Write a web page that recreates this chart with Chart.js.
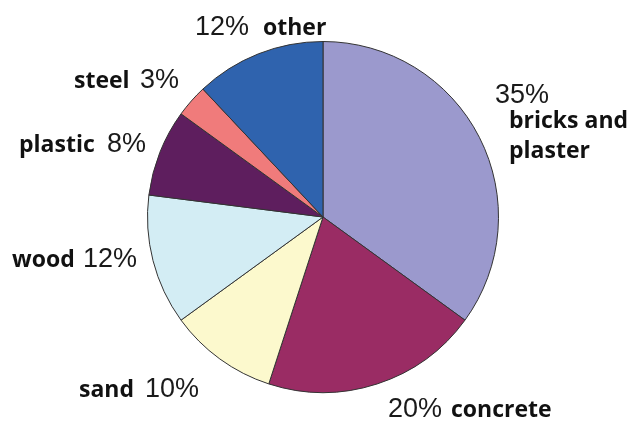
<!DOCTYPE html>
<html lang="en">
<head>
    <meta charset="UTF-8">
    <title>Building waste</title>
    <script src="https://cdn.jsdelivr.net/npm/chart.js"></script>
    <style>
        * {
            margin: 0;
            padding: 0;
            box-sizing: border-box;
        }
        body {
            background: white;
        }
        .chart-container {
            width: 631px;
            height: 427px;
            position: relative;
        }
    </style>
</head>
<body>
    <div class="chart-container">
        <canvas id="wasteChart"></canvas>
    </div>

    <script>
        // slices, clockwise from 12 o'clock
        const materials = ["bricks and plaster", "concrete", "sand", "wood", "plastic", "steel", "other"];
        const percents = [35, 20, 10, 12, 8, 3, 12];
        const sliceColors = ["#9b99cd", "#9a2c64", "#fcf9cd", "#d3edf4", "#5e1e5e", "#f07b7b", "#2f63ae"];

        // label placement: left x of the % and of the name, baselines
        const labelSpots = [
            { pctX: 495, pctY: 103, nameX: 509, nameY: 128, nameLines: ["bricks and", "plaster"] },
            { pctX: 388, pctY: 417, nameX: 451, nameY: 417 },
            { pctX: 145, pctY: 397, nameX: 79, nameY: 397 },
            { pctX: 83, pctY: 267, nameX: 12, nameY: 267 },
            { pctX: 107, pctY: 152, nameX: 19, nameY: 152 },
            { pctX: 140, pctY: 88, nameX: 74, nameY: 88 },
            { pctX: 195, pctY: 35, nameX: 263, nameY: 35 }
        ];

        const pctFont = "27px 'Liberation Sans', Arial, sans-serif";
        const nameFont = "bold 23px 'Open Sans', 'DejaVu Sans', sans-serif";

        const pieLabels = {
            id: "pieLabels",
            afterDraw(chart) {
                const ctx = chart.ctx;
                ctx.save();
                ctx.textAlign = "left";
                ctx.textBaseline = "alphabetic";
                ctx.fillStyle = "#1a1a1a";
                labelSpots.forEach((spot, i) => {
                    ctx.font = pctFont;
                    ctx.fillText(percents[i] + "%", spot.pctX, spot.pctY);
                    ctx.font = nameFont;
                    ctx.fillStyle = "#111111";
                    const lines = spot.nameLines || [materials[i]];
                    lines.forEach((line, j) => {
                        ctx.fillText(line, spot.nameX, spot.nameY + j * 30);
                    });
                    ctx.fillStyle = "#1a1a1a";
                });
                ctx.restore();
            }
        };

        new Chart(document.getElementById("wasteChart"), {
            type: "pie",
            data: {
                labels: materials,
                datasets: [{
                    data: percents,
                    backgroundColor: sliceColors,
                    borderColor: "#333333",
                    borderWidth: 1
                }]
            },
            options: {
                responsive: true,
                maintainAspectRatio: false,
                animation: false,
                layout: {
                    padding: { top: 41, bottom: 34, left: 100, right: 85 }
                },
                plugins: {
                    legend: { display: false },
                    tooltip: { enabled: false }
                }
            },
            plugins: [pieLabels]
        });
    </script>
</body>
</html>
